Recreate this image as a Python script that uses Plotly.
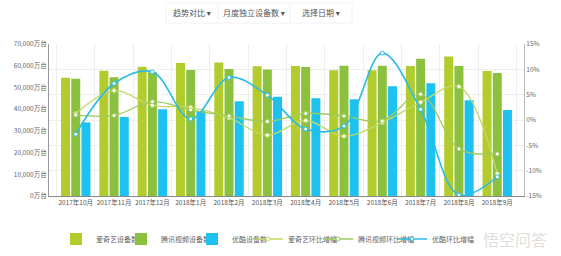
import plotly.graph_objects as go

months = ["2017年10月", "2017年11月", "2017年12月", "2018年1月", "2018年2月", "2018年3月",
          "2018年4月", "2018年5月", "2018年6月", "2018年7月", "2018年8月", "2018年9月"]
iqiyi_dev = [54500, 57700, 59500, 61200, 61500, 59700, 59900, 57900, 57900, 59900, 64200, 57600]
tencent_dev = [54000, 54700, 57000, 58000, 58500, 58300, 59400, 60000, 60000, 63200, 59900, 56600]
youku_dev = [33900, 36400, 40000, 39100, 43600, 45700, 45000, 44500, 50500, 51900, 44100, 39600]
iqiyi_mom = [1.3, 5.8, 2.9, 2.5, 0.4, -3.0, -0.1, -3.2, -0.5, 3.5, 6.6, -10.6]
tencent_mom = [1.0, 0.9, 3.6, 2.0, 0.8, -0.3, 1.3, 0.8, -0.2, 5.1, -5.7, -6.7]
youku_mom = [-2.8, 7.2, 9.5, 0.2, 8.4, 4.9, -1.8, -1.2, 13.2, 2.1, -14.8, -11.2]
left_ticks = [0, 10000, 20000, 30000, 40000, 50000, 60000, 70000]
right_ticks = [-15, -10, -5, 0, 5, 10, 15]
menu_labels = ["趋势对比 ▾", "月度独立设备数 ▾", "选择日期 ▾"]

C_IQ = "#b1cc2c"
C_TX = "#8bc13f"
C_YK = "#1ec2f0"
C_IQ_L = "#c2d865"
C_TX_L = "#9fcb5c"
C_YK_L = "#2bbbe8"
FONT = "Noto Sans CJK SC, DejaVu Sans, sans-serif"

L, R, T, B = 49, 37, 44, 60
W, H = 561, 256
PW, PH = W - L - R, H - T - B


def px2paper(x, y):
    return (x - L) / PW, (H - B - y) / PH


fig = go.Figure()
names_bar = ["爱奇艺设备数", "腾讯视频设备数", "优酷设备数"]
for i, (nm, vals, col) in enumerate(zip(names_bar, [iqiyi_dev, tencent_dev, youku_dev], [C_IQ, C_TX, C_YK])):
    fig.add_trace(go.Bar(x=months, y=vals, name=nm, marker=dict(color=col, line=dict(width=0)),
                         legend="legend" if i == 0 else f"legend{i+1}"))
names_line = ["爱奇艺环比增幅", "腾讯视频环比增幅", "优酷环比增幅"]
for i, (nm, vals, col, w) in enumerate(zip(names_line, [iqiyi_mom, tencent_mom, youku_mom],
                                        [C_IQ_L, C_TX_L, C_YK_L], [1.3, 1.3, 1.6])):
    fig.add_trace(go.Scatter(x=months, y=vals, name=nm, yaxis="y2", mode="lines+markers",
                             line=dict(color=col, width=w, shape="spline", smoothing=1.0),
                             marker=dict(symbol="circle", size=4, color="white", line=dict(color=col, width=1)),
                             legend=f"legend{i+4}"))

legend_text_x = [96, 161, 232, 288, 358, 432]
legend_cfg = {}
for i, tx in enumerate(legend_text_x):
    key = "legend" if i == 0 else f"legend{i+1}"
    px_x = tx - 40
    legend_cfg[key] = dict(x=(px_x - L) / PW, y=(H - B - 239) / PH, xanchor="left", yanchor="middle",
                           orientation="h", font=dict(size=7, color="#666", family=FONT),
                           bgcolor="rgba(0,0,0,0)", borderwidth=0, itemwidth=30,
                           tracegroupgap=0, itemclick=False)

shapes = []
annotations = []
boxes = [(166, 218), (218, 290), (290, 352)]
for (x0, x1), lab in zip(boxes, menu_labels):
    px0, py0 = px2paper(x0, 3)
    px1, py1 = px2paper(x1, 23)
    shapes.append(dict(type="rect", xref="paper", yref="paper", x0=px0, x1=px1, y0=py1, y1=py0,
                       line=dict(color="#f2f2f2", width=1), fillcolor="white", layer="above"))
    cx, cy = px2paper((x0 + x1) / 2, 13)
    annotations.append(dict(text=lab, x=cx, y=cy, xref="paper", yref="paper", showarrow=False,
                            font=dict(size=8, color="#555", family=FONT), xanchor="center", yanchor="middle"))
wx, wy = px2paper(515, 239)
annotations.append(dict(text="悟空问答", x=wx, y=wy, xref="paper", yref="paper", showarrow=False,
                        font=dict(size=16, color="rgba(215,215,215,0.85)", family=FONT),
                        xanchor="center", yanchor="middle"))

fig.update_layout(
    width=W, height=H, margin=dict(l=L, r=R, t=T, b=B, pad=0, autoexpand=False),
    paper_bgcolor="white", plot_bgcolor="white",
    barmode="group", bargap=0.2, bargroupgap=0.12,
    font=dict(family=FONT, size=7, color="#666"),
    showlegend=True,
    xaxis=dict(showgrid=True, gridcolor="#eeeeee", gridwidth=1, showline=True, linecolor="#888",
               linewidth=1, ticks="", tickfont=dict(size=6.5, color="#555"), tickson="boundaries",
               zeroline=False, tickangle=0, automargin=False),
    yaxis=dict(range=[0, 70000], tickvals=left_ticks,
               ticktext=[f"{v:,}万台" for v in left_ticks], showgrid=False, showline=True,
               linecolor="#999", linewidth=1, ticks="", zeroline=False, automargin=False,
               tickfont=dict(size=6.5, color="#666")),
    yaxis2=dict(range=[-15, 15], tickvals=right_ticks, ticktext=[f"{v}%" for v in right_ticks],
                overlaying="y", side="right", showgrid=True, gridcolor="#eeeeee", gridwidth=1,
                showline=True, linecolor="#bbb", linewidth=1, ticks="", zeroline=False, automargin=False,
                tickfont=dict(size=6.5, color="#666")),
    shapes=shapes, annotations=annotations,
    **legend_cfg,
)
fig.write_html("out.html")
